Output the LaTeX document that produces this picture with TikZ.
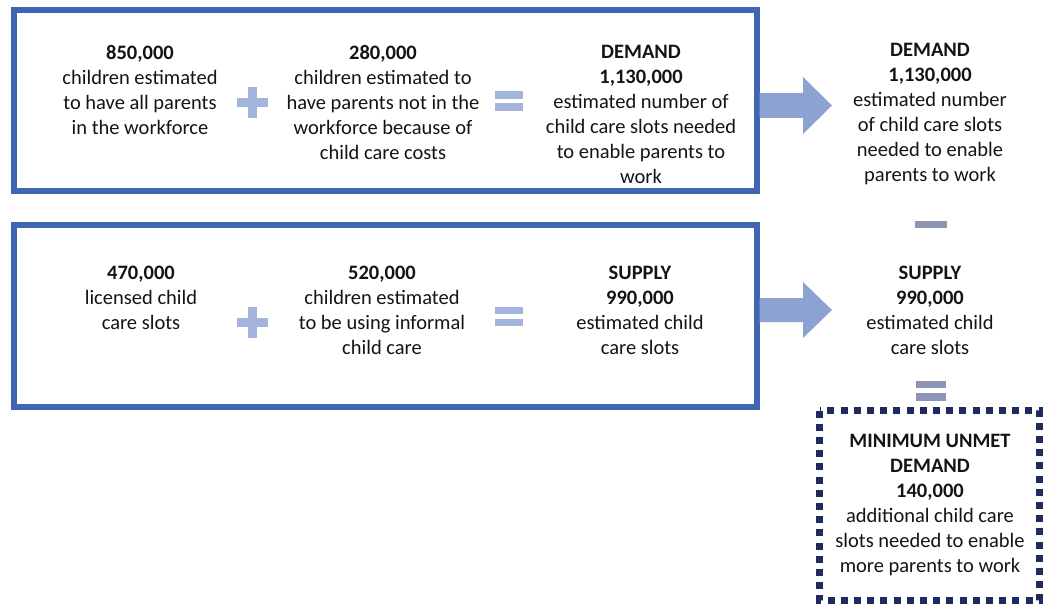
\documentclass[tikz,border=0pt]{standalone}
\usepackage{fontspec}
\setmainfont{Carlito}
\begin{document}
\begin{tikzpicture}[x=1pt,y=-1pt,
  txt/.style={align=center,inner sep=0pt,font=\fontsize{20.5}{25}\selectfont,text=black!92},
  bigbox/.style={draw=boxblue,line width=6pt},
  opfill/.style={fill=opblue},
  opfill2/.style={fill=opgrey},
  arrowfill/.style={fill=arrblue}]
\definecolor{boxblue}{HTML}{4066B3}
\definecolor{opblue}{HTML}{A2B4DB}
\definecolor{opgrey}{HTML}{8E94B5}
\definecolor{arrblue}{HTML}{8CA3D2}
\definecolor{navy}{HTML}{1F2B5E}
\useasboundingbox (0,0) rectangle (1043,604);
% boxes
\draw[bigbox] (14,10.5) rectangle (756.5,191);
\draw[bigbox] (14,225) rectangle (756.5,407);
% row 1 texts
\node[txt] (a1) at (140,89.5) {\textbf{850,000}\\children estimated\\to have all parents\\in the workforce};
\node[txt] (a2) at (383,102) {\textbf{280,000}\\children estimated to\\have parents not in the\\workforce because of\\child care costs};
\node[txt] (a3) at (641,114.5) {\textbf{DEMAND}\\\textbf{1,130,000}\\estimated number of\\child care slots needed\\to enable parents to\\work};
\node[txt] (a4) at (930,114.5) {\textbf{DEMAND}\\\textbf{1,130,000}\\estimated number\\of child care slots\\needed to enable\\parents to work};
% row 2 texts
\node[txt] (b1) at (141,298) {\textbf{470,000}\\licensed child\\care slots};
\node[txt] (b2) at (382,310.5) {\textbf{520,000}\\children estimated\\to be using informal\\child care};
\node[txt] (b3) at (640,310.5) {\textbf{SUPPLY}\\\textbf{990,000}\\estimated child\\care slots};
\node[txt] (b4) at (930,310.5) {\textbf{SUPPLY}\\\textbf{990,000}\\estimated child\\care slots};
% result
\node[txt] (c) at (930,505) {\textbf{MINIMUM UNMET}\\\textbf{DEMAND}\\\textbf{140,000}\\additional child care\\slots needed to enable\\more parents to work};
\draw[navy,line width=7pt,dash pattern=on 7pt off 6.2pt] (819.5,410.5) rectangle (1039.5,600.5);
% plus signs
\fill[opfill] (237,98) rectangle (268,107);
\fill[opfill] (248,87) rectangle (257,118);
\fill[opfill] (237,317.5) rectangle (268,326.5);
\fill[opfill] (248,306.5) rectangle (257,337.5);
% equals
\fill[opfill] (495,91) rectangle (523,99);
\fill[opfill] (495,103) rectangle (523,111);
\fill[opfill] (495,307) rectangle (523,314);
\fill[opfill] (495,319) rectangle (523,326);
% right minus / equals
\fill[opfill2] (915,221) rectangle (947,228);
\fill[opfill2] (916,381) rectangle (946,388);
\fill[opfill2] (916,393) rectangle (946,401);
% arrows
\fill[arrowfill] (759.5,93) -- (803,93) -- (803,77) -- (832,105.5) -- (803,134) -- (803,118) -- (759.5,118) -- cycle;
\fill[arrowfill] (759.5,298) -- (803,298) -- (803,282) -- (832,310) -- (803,338) -- (803,322) -- (759.5,322) -- cycle;
\end{tikzpicture}
\end{document}
